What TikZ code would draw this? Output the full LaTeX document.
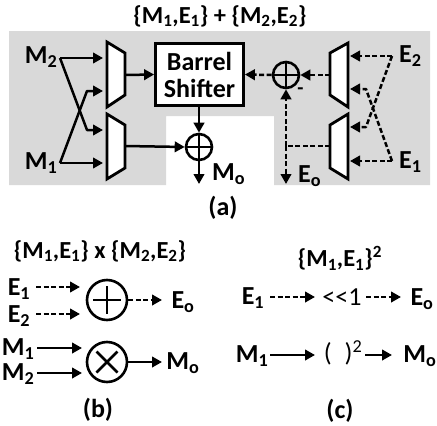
\documentclass[tikz,border=0pt]{standalone}
\usepackage{fontspec}
\setmainfont{Carlito}
\usetikzlibrary{arrows.meta}
\newcommand{\lab}[2]{#1\textsubscript{#2}}
\tikzset{
  ln/.style={line width=2.5pt,line join=round},
  arr/.style={ln,-{Triangle[length=10pt,width=10.5pt]}},
  darr/.style={arr,dash pattern=on 5pt off 2.5pt},
  dln/.style={ln,dash pattern=on 5pt off 2.5pt},
  muxs/.style={draw,line width=2.8pt,fill=white,line join=miter},
  op/.style={draw,circle,line width=2.6pt,inner sep=0pt,fill=none},
  txt/.style={font=\bfseries\fontsize{26}{28}\selectfont,inner sep=0pt},
  ttl/.style={font=\bfseries\fontsize{24.5}{28}\selectfont,inner sep=0pt},
  plain/.style={font=\fontsize{26}{28}\selectfont,inner sep=0pt},
}
\definecolor{panel}{gray}{0.85}
\begin{document}
\begin{tikzpicture}[x=1pt,y=-1pt]
\useasboundingbox (0,0) rectangle (437,426);
\fill[white] (0,0) rectangle (437,426);
\fill[panel] (9,31) -- (430,31) -- (430,185) -- (274,185) -- (274,116) -- (166,116) -- (166,185) -- (9,185) -- cycle;

\node[ttl] (ta) at (220,16) {\{\lab{M}{1},\lab{E}{1}\} + \{\lab{M}{2},\lab{E}{2}\}};
\node[txt] (capa) at (223,208) {(a)};

% left muxes
\draw[muxs] (107,42) -- (125,53) -- (125,95) -- (107,107) -- cycle;
\draw[muxs] (107,114) -- (125,125) -- (125,168) -- (107,179) -- cycle;
% right muxes
\draw[muxs] (348,43) -- (330,53) -- (330,95) -- (348,107) -- cycle;
\draw[muxs] (348,114) -- (330,125) -- (330,168) -- (348,179) -- cycle;

\node[draw,line width=2.8pt,fill=white,minimum width=88pt,minimum height=62pt,inner sep=0pt,align=center,font=\bfseries\fontsize{26}{27}\selectfont] (bs) at (199.5,74.5) {Barrel\\Shifter};

\node[txt] (m2) at (41,57) {\lab{M}{2}};
\node[txt] (m1) at (41,163) {\lab{M}{1}};
\node[op,minimum size=26pt] (addm) at (199,147) {};
\draw[line width=2.5pt] (addm.north) -- (addm.south) (addm.west) -- (addm.east);
\node[op,minimum size=26pt] (adde) at (286,75) {};
\draw[line width=2.5pt] (adde.north) -- (adde.south) (adde.west) -- (adde.east);
\node[txt,anchor=west] (moa) at (212,174) {\lab{M}{o}};
\node[txt,anchor=west] (eoa) at (298,176) {\lab{E}{o}};
\node[txt,anchor=west] (e2) at (399,56) {\lab{E}{2}};
\node[txt,anchor=west] (e1) at (399,162) {\lab{E}{1}};
\node[txt,font=\bfseries\fontsize{20}{20}\selectfont] (minus) at (300.5,91) {-};

\coordinate (m2o) at (60,58);
\coordinate (m1o) at (60,163);
\coordinate (e2o) at (392,56);
\coordinate (e1o) at (392,161);
\coordinate (mt1) at (103,58);
\coordinate (mt2) at (103,91);
\coordinate (mt3) at (103,130);
\coordinate (mt4) at (103,163);
\coordinate (mo1) at (125,75);
\coordinate (mo2) at (125,146);
\coordinate (et1) at (350,56);
\coordinate (et2) at (350,89);
\coordinate (et3) at (350,127);
\coordinate (et4) at (350,161);
\coordinate (eo1) at (330,75);
\coordinate (eo2) at (330,146);
\coordinate (jn) at (286,146);
\coordinate (eend) at (286,184);
\coordinate (mend) at (199,184);

\draw[arr] (m2o) -- (mt1);
\draw[arr] (m2o) -- (87,130) -- (mt3);
\draw[arr] (m1o) -- (mt4);
\draw[arr] (m1o) -- (87,91) -- (mt2);
\draw[arr] (mo1) -- (bs.west);
\draw[arr] (mo2) -- (addm.west);
\draw[arr] (bs.south -| addm) -- (addm.north);
\draw[arr] (addm.south) -- (mend);

\draw[darr] (e2o) -- (et1);
\draw[darr] (e1o) -- (et4);
\draw[darr] (e2o) -- (366,127) -- (et3);
\draw[darr] (e1o) -- (366,89) -- (et2);
\draw[darr] (eo1) -- (adde.east);
\draw[darr] (adde.west) -- (bs.east);
\draw[darr] (jn) -- (adde.south);
\draw[darr] (jn) -- (eend);
\draw[dln] (eo2) -- (jn);

% (b)
\node[ttl] (tb) at (100,251) {\{\lab{M}{1},\lab{E}{1}\} x \{\lab{M}{2},\lab{E}{2}\}};
\node[txt] (be1) at (19,289) {\lab{E}{1}};
\node[txt] (be2) at (19,316) {\lab{E}{2}};
\node[txt] (bm1) at (18,349) {\lab{M}{1}};
\node[txt] (bm2) at (18,374) {\lab{M}{2}};
\node[txt] (beo) at (183,302) {\lab{E}{o}};
\node[txt] (bmo) at (183,363) {\lab{M}{o}};
\node[txt] (capb) at (98,410) {(b)};
\node[op,minimum size=40pt] (pl) at (107,300) {};
\draw[line width=2.5pt] (pl.center) ++(0,-14) -- ++(0,28) (pl.center) ++(-14,0) -- ++(28,0);
\node[op,minimum size=40pt] (ti) at (107,362) {};
\draw[line width=2.5pt] (ti.center) ++(-10.5,-10.5) -- ++(21,21) (ti.center) ++(10.5,-10.5) -- ++(-21,21);
\coordinate (a1) at (36,287); \coordinate (a2) at (80,287);
\coordinate (a3) at (36,314); \coordinate (a4) at (80,314);
\coordinate (a5) at (37,348); \coordinate (a6) at (82,348);
\coordinate (a7) at (37,373); \coordinate (a8) at (82,373);
\coordinate (a9) at (162,300); \coordinate (a10) at (162,362);
\draw[darr] (a1) -- (a2);
\draw[darr] (a3) -- (a4);
\draw[arr] (a5) -- (a6);
\draw[arr] (a7) -- (a8);
\draw[darr] (pl.east) -- (a9);
\draw[arr] (ti.east) -- (a10);

% (c)
\node[ttl] (tc) at (340,258) {\{\lab{M}{1},\lab{E}{1}\}\textsuperscript{2}};
\node[txt] (ce1) at (253,298) {\lab{E}{1}};
\node[txt] (cm1) at (252,356) {\lab{M}{1}};
\node[txt] (ceo) at (422,299) {\lab{E}{o}};
\node[txt] (cmo) at (420,356) {\lab{M}{o}};
\node[plain] (sh) at (342,297) {<{}<1};
\node[plain] (sq) at (343,353) {(\,\,\,)\textsuperscript{2}};
\node[txt] (capc) at (340,411) {(c)};
\coordinate (b1) at (270,297); \coordinate (b2) at (315,297);
\coordinate (b3) at (366,297); \coordinate (b4) at (401,297);
\coordinate (b5) at (270,355); \coordinate (b6) at (315,355);
\coordinate (b7) at (365,355); \coordinate (b8) at (392,355);
\draw[darr] (b1) -- (b2);
\draw[darr] (b3) -- (b4);
\draw[arr] (b5) -- (b6);
\draw[arr] (b7) -- (b8);
\end{tikzpicture}
\end{document}
